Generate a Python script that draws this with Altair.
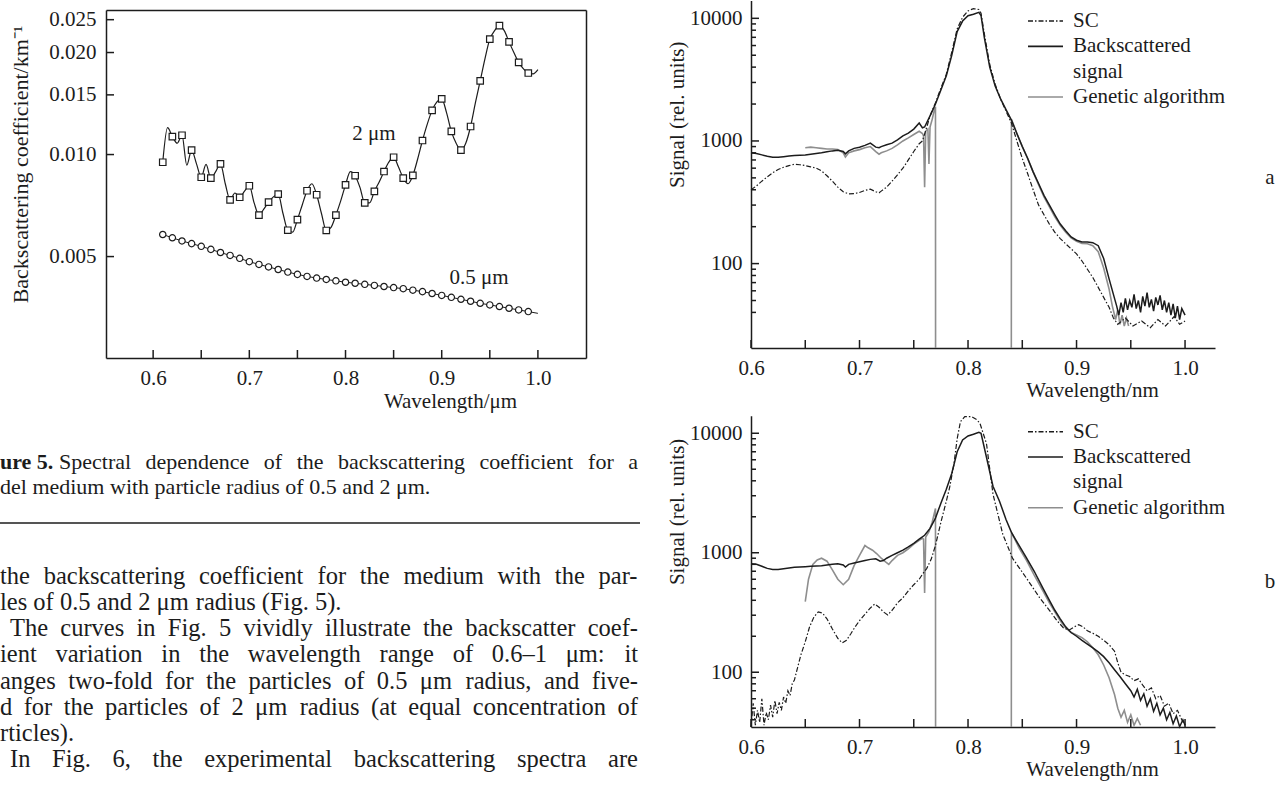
import altair as alt
import pandas as pd

W, H = 1287, 787
FONT = "Liberation Serif"
INK = "#1c1c1c"
GRAY = "#8e8e8e"

# ---------------- Figure 5 data ----------------
fig5_lam = [0.61, 0.615, 0.62, 0.625, 0.63, 0.635, 0.64, 0.645, 0.65, 0.655, 0.66, 0.665, 0.67, 0.675,
            0.68, 0.685, 0.69, 0.695, 0.70, 0.705, 0.71, 0.715, 0.72, 0.725, 0.73, 0.735, 0.74, 0.745,
            0.75, 0.755, 0.76, 0.765, 0.77, 0.775, 0.78, 0.785, 0.79, 0.795, 0.80, 0.805, 0.81, 0.815,
            0.82, 0.825, 0.83, 0.835, 0.84, 0.845, 0.85, 0.855, 0.86, 0.865, 0.87, 0.875, 0.88, 0.885,
            0.89, 0.895, 0.90, 0.905, 0.91, 0.915, 0.92, 0.925, 0.93, 0.935, 0.94, 0.945, 0.95, 0.955,
            0.96, 0.965, 0.97, 0.975, 0.98, 0.985, 0.99, 0.995, 1.0]
fig5_2um = [0.00949, 0.0120, 0.0113, 0.0108, 0.0114, 0.0093, 0.0103, 0.0094, 0.00857, 0.00935, 0.00852,
            0.0089, 0.00939, 0.0082, 0.00735, 0.0077, 0.00748, 0.0078, 0.00809, 0.0072, 0.00663, 0.0069,
            0.00724, 0.0075, 0.00764, 0.0067, 0.00598, 0.0059, 0.00643, 0.0071, 0.00782, 0.0082, 0.00761,
            0.0067, 0.00597, 0.0061, 0.00663, 0.0073, 0.00814, 0.0089, 0.00866, 0.0080, 0.0072, 0.0072,
            0.00779, 0.0083, 0.00891, 0.0095, 0.00982, 0.0092, 0.00852, 0.0082, 0.00868, 0.0097, 0.0110,
            0.0123, 0.0135, 0.0143, 0.0146, 0.0133, 0.0117, 0.0108, 0.0103, 0.0108, 0.0121, 0.0142, 0.0165,
            0.0192, 0.0219, 0.0232, 0.0240, 0.0232, 0.0215, 0.0200, 0.0187, 0.0179, 0.0174, 0.0173, 0.0178]
fig5_lam05 = [0.61, 0.62, 0.63, 0.64, 0.65, 0.66, 0.67, 0.68, 0.69, 0.70, 0.71, 0.72, 0.73, 0.74, 0.75,
              0.76, 0.77, 0.78, 0.79, 0.80, 0.81, 0.82, 0.83, 0.84, 0.85, 0.86, 0.87, 0.88, 0.89, 0.90,
              0.91, 0.92, 0.93, 0.94, 0.95, 0.96, 0.97, 0.98, 0.99, 1.0]
fig5_05um = [0.00581, 0.00568, 0.00556, 0.00546, 0.00536, 0.00525, 0.00514, 0.00504, 0.00494, 0.00483,
             0.00474, 0.00466, 0.00458, 0.00450, 0.00443, 0.00437, 0.00432, 0.00428, 0.00424, 0.00420,
             0.00417, 0.00414, 0.00411, 0.00408, 0.00405, 0.00402, 0.00398, 0.00394, 0.00389, 0.00384,
             0.00379, 0.00374, 0.00369, 0.00364, 0.00360, 0.00356, 0.00352, 0.00348, 0.00344, 0.00340]
fig5_xticks = [0.6, 0.7, 0.8, 0.9, 1.0]
fig5_xminor = [0.6, 0.65, 0.7, 0.75, 0.8, 0.85, 0.9, 0.95, 1.0]
fig5_yticks = [0.005, 0.010, 0.015, 0.020, 0.025]
fig5_labels = [(0.8296, 0.01153, "2 μm"), (0.9387, 0.00431, "0.5 μm")]

# ---------------- Figure 6 data (wavelength, signal) ----------------
a_backscatter = [(0.600, 800), (0.605, 790), (0.610, 770), (0.615, 750), (0.620, 735), (0.625, 735),
    (0.630, 745), (0.635, 755), (0.640, 760), (0.645, 765), (0.650, 770), (0.655, 780), (0.660, 790),
    (0.665, 800), (0.670, 815), (0.675, 830), (0.680, 840), (0.685, 820), (0.687, 785), (0.690, 830),
    (0.695, 870), (0.700, 890), (0.705, 920), (0.710, 960), (0.715, 890), (0.718, 880), (0.720, 900),
    (0.725, 930), (0.730, 960), (0.735, 1020), (0.740, 1100), (0.745, 1160), (0.750, 1250), (0.755, 1400),
    (0.758, 1280), (0.760, 1300), (0.765, 1600), (0.770, 2000), (0.775, 2600), (0.780, 3400), (0.785, 5000),
    (0.790, 7800), (0.795, 9500), (0.800, 10500), (0.805, 10800), (0.810, 11200), (0.812, 10500),
    (0.815, 7000), (0.820, 4000), (0.825, 2800), (0.830, 2200), (0.835, 1800), (0.840, 1480), (0.845, 1150),
    (0.850, 900), (0.855, 720), (0.860, 560), (0.865, 450), (0.870, 360), (0.875, 300), (0.880, 250),
    (0.885, 210), (0.890, 185), (0.895, 165), (0.900, 155), (0.905, 150), (0.910, 150), (0.915, 148),
    (0.920, 140), (0.925, 110), (0.930, 75), (0.935, 52), (0.937, 45), (0.939, 38), (0.941, 48), (0.943, 40),
    (0.945, 52), (0.947, 42), (0.949, 50), (0.951, 44), (0.953, 56), (0.955, 43), (0.957, 50), (0.959, 40),
    (0.961, 54), (0.963, 45), (0.965, 58), (0.967, 44), (0.969, 51), (0.971, 41), (0.973, 53), (0.975, 46),
    (0.977, 55), (0.979, 42), (0.981, 50), (0.983, 40), (0.985, 48), (0.987, 38), (0.989, 47), (0.991, 36),
    (0.993, 45), (0.995, 35), (0.997, 43), (1.000, 38)]
a_sc = [(0.600, 400), (0.605, 430), (0.610, 470), (0.615, 510), (0.620, 550), (0.625, 585), (0.630, 610),
    (0.635, 630), (0.640, 645), (0.645, 640), (0.650, 630), (0.655, 615), (0.660, 600), (0.665, 570),
    (0.670, 520), (0.675, 470), (0.680, 420), (0.685, 385), (0.690, 370), (0.695, 372), (0.700, 380),
    (0.705, 395), (0.710, 405), (0.715, 385), (0.718, 378), (0.720, 390), (0.725, 420), (0.730, 470),
    (0.735, 530), (0.740, 600), (0.745, 700), (0.750, 820), (0.755, 950), (0.758, 1000), (0.762, 1300),
    (0.765, 1600), (0.770, 2050), (0.775, 2700), (0.780, 3500), (0.785, 5300), (0.790, 8200), (0.795, 10200),
    (0.800, 11500), (0.805, 12000), (0.810, 11800), (0.812, 11000), (0.815, 7500), (0.820, 4200),
    (0.825, 2900), (0.830, 2200), (0.835, 1750), (0.840, 1400), (0.845, 1000), (0.850, 720), (0.855, 540),
    (0.860, 400), (0.865, 300), (0.870, 250), (0.875, 210), (0.880, 180), (0.885, 160), (0.890, 145),
    (0.895, 132), (0.900, 120), (0.905, 105), (0.910, 90), (0.915, 77), (0.920, 64), (0.925, 53),
    (0.930, 44), (0.934, 36), (0.938, 32), (0.945, 36), (0.952, 31), (0.960, 34), (0.968, 30), (0.975, 35),
    (0.982, 31), (0.990, 37), (0.995, 32), (1.000, 34)]
a_genetic_1 = [(0.650, 880), (0.655, 890), (0.660, 880), (0.665, 870), (0.670, 860), (0.675, 860),
    (0.680, 850), (0.685, 800), (0.687, 740), (0.690, 800), (0.695, 830), (0.700, 850), (0.705, 880),
    (0.710, 900), (0.715, 820), (0.718, 780), (0.720, 800), (0.725, 830), (0.730, 870), (0.735, 930),
    (0.740, 1000), (0.745, 1060), (0.750, 1130), (0.755, 1200), (0.758, 1150), (0.759, 1100), (0.760, 420),
    (0.761, 1200), (0.763, 1250), (0.764, 650), (0.765, 1300), (0.767, 1500), (0.769, 1800), (0.770, 1900)]
a_genetic_2 = [(0.840, 1500), (0.845, 1150), (0.850, 900), (0.855, 720), (0.860, 560), (0.865, 440),
    (0.870, 350), (0.875, 290), (0.880, 240), (0.885, 205), (0.890, 180), (0.895, 162), (0.900, 152),
    (0.905, 146), (0.910, 145), (0.915, 140), (0.920, 125), (0.925, 92), (0.930, 62), (0.933, 45),
    (0.936, 35), (0.938, 42), (0.940, 32), (0.942, 38), (0.944, 31), (0.946, 36), (0.948, 31)]

b_backscatter = [(0.600, 810), (0.605, 800), (0.610, 770), (0.615, 740), (0.620, 725), (0.625, 725),
    (0.630, 735), (0.635, 745), (0.640, 755), (0.645, 760), (0.650, 765), (0.655, 770), (0.660, 775),
    (0.665, 780), (0.670, 790), (0.675, 800), (0.680, 810), (0.685, 790), (0.687, 760), (0.690, 800),
    (0.695, 820), (0.700, 840), (0.705, 860), (0.710, 880), (0.715, 890), (0.719, 850), (0.722, 860),
    (0.725, 900), (0.730, 950), (0.735, 1000), (0.740, 1050), (0.745, 1120), (0.750, 1200), (0.755, 1300),
    (0.760, 1400), (0.765, 1600), (0.770, 1950), (0.775, 2600), (0.780, 3400), (0.785, 4600), (0.790, 7000),
    (0.795, 8800), (0.800, 9500), (0.805, 9800), (0.810, 10200), (0.812, 10000), (0.817, 6300),
    (0.823, 3600), (0.829, 2700), (0.835, 1900), (0.840, 1480), (0.847, 1150), (0.854, 900), (0.861, 700),
    (0.869, 505), (0.875, 400), (0.880, 330), (0.885, 280), (0.890, 240), (0.895, 215), (0.900, 200),
    (0.905, 185), (0.910, 172), (0.915, 160), (0.920, 148), (0.925, 135), (0.930, 120), (0.935, 105),
    (0.940, 92), (0.945, 80), (0.950, 70), (0.953, 62), (0.956, 72), (0.959, 58), (0.962, 66), (0.965, 52),
    (0.968, 60), (0.971, 47), (0.974, 55), (0.977, 44), (0.980, 50), (0.983, 40), (0.986, 46), (0.989, 37),
    (0.992, 43), (0.995, 35), (0.998, 40), (1.000, 36)]
b_sc = [(0.600, 35), (0.602, 55), (0.604, 36), (0.606, 48), (0.608, 38), (0.610, 60), (0.612, 36),
    (0.614, 46), (0.616, 40), (0.618, 53), (0.620, 42), (0.622, 58), (0.624, 45), (0.626, 56), (0.628, 48),
    (0.630, 62), (0.632, 55), (0.634, 70), (0.636, 64), (0.638, 80), (0.640, 86), (0.643, 110), (0.646, 140),
    (0.650, 180), (0.654, 240), (0.658, 290), (0.662, 320), (0.666, 312), (0.670, 280), (0.675, 230),
    (0.680, 192), (0.684, 176), (0.688, 185), (0.692, 210), (0.696, 240), (0.700, 270), (0.705, 305),
    (0.710, 345), (0.714, 372), (0.718, 350), (0.722, 320), (0.726, 302), (0.730, 330), (0.735, 380),
    (0.740, 420), (0.745, 480), (0.750, 540), (0.755, 600), (0.758, 660), (0.762, 740), (0.766, 880),
    (0.770, 1150), (0.775, 1800), (0.780, 2700), (0.783, 3500), (0.787, 5500), (0.790, 9000),
    (0.793, 12500), (0.797, 13800), (0.803, 13800), (0.808, 13000), (0.811, 12100), (0.817, 8200),
    (0.823, 3100), (0.832, 1430), (0.841, 900), (0.854, 610), (0.866, 420), (0.875, 330), (0.882, 270),
    (0.888, 235), (0.893, 225), (0.898, 240), (0.902, 250), (0.906, 240), (0.910, 222), (0.915, 212),
    (0.920, 200), (0.925, 185), (0.930, 170), (0.935, 150), (0.938, 120), (0.941, 100), (0.945, 95),
    (0.949, 92), (0.953, 85), (0.957, 88), (0.961, 78), (0.965, 70), (0.969, 74), (0.973, 60), (0.977, 64),
    (0.981, 52), (0.985, 55), (0.989, 45), (0.993, 48), (0.997, 40), (1.000, 36)]
b_genetic_1 = [(0.650, 390), (0.653, 600), (0.657, 800), (0.661, 870), (0.665, 900), (0.670, 850),
    (0.675, 720), (0.680, 600), (0.685, 540), (0.690, 600), (0.695, 780), (0.700, 950), (0.705, 1150),
    (0.708, 1100), (0.712, 1050), (0.716, 980), (0.720, 900), (0.724, 840), (0.727, 800), (0.730, 860),
    (0.735, 950), (0.740, 1000), (0.745, 1080), (0.750, 1180), (0.755, 1270), (0.758, 1320), (0.759, 1300),
    (0.760, 460), (0.761, 1350), (0.764, 1500), (0.767, 1800), (0.770, 2350)]
b_genetic_2 = [(0.840, 1480), (0.847, 1100), (0.854, 860), (0.861, 650), (0.869, 480), (0.875, 380),
    (0.880, 320), (0.885, 270), (0.890, 235), (0.895, 215), (0.900, 205), (0.905, 195), (0.910, 180),
    (0.915, 160), (0.920, 140), (0.925, 115), (0.930, 90), (0.935, 65), (0.938, 50), (0.941, 42),
    (0.944, 48), (0.947, 38), (0.950, 44), (0.953, 36), (0.956, 41), (0.959, 36)]

fig6_xticks = [0.6, 0.7, 0.8, 0.9, 1.0]
fig6_xminor = [0.6, 0.65, 0.7, 0.75, 0.8, 0.85, 0.9, 0.95, 1.0]
fig6_ymajor = [100, 1000, 10000]
fig6_yminor = [40, 50, 60, 70, 80, 90, 200, 300, 400, 500, 600, 700, 800, 900,
               2000, 3000, 4000, 5000, 6000, 7000, 8000, 9000]
legend_rows = ["SC", "Backscattered", "signal", "Genetic algorithm"]

# ---------------- text ----------------
caption_bold = "ure 5."
caption_1 = "Spectral dependence of the backscattering coefficient for a"
caption_2 = "del medium with particle radius of 0.5 and 2 μm."
body_lines = [
    "the backscattering coefficient for the medium with the par-",
    "les of 0.5 and 2 μm radius (Fig. 5).",
    "The curves in Fig. 5 vividly illustrate the backscatter coef-",
    "ient variation in the wavelength range of 0.6–1 μm: it",
    "anges two-fold for the particles of 0.5 μm radius, and five-",
    "d for the particles of 2 μm radius (at equal concentration of",
    "rticles).",
    "In Fig. 6, the experimental backscattering spectra are",
]
body_justified = [True, False, True, True, True, True, False, True]
body_indented = [False, False, True, False, False, False, False, True]

# Times / Liberation Serif advance widths (per em) used to justify lines
_TW = {" ": .25, "!": .333, "(": .333, ")": .333, ",": .25, "-": .333, ".": .25, "/": .278, ":": .278,
       ";": .278, "–": .5, "μ": .576}
_TW.update({d: .5 for d in "0123456789"})
_TW.update(dict(zip("ABCDEFGHIJKLMNOPQRSTUVWXYZ",
                    [.722, .667, .667, .722, .611, .556, .722, .722, .333, .389, .722, .611, .889, .722,
                     .722, .556, .722, .667, .556, .611, .722, .722, .944, .722, .722, .611])))
_TW.update(dict(zip("abcdefghijklmnopqrstuvwxyz",
                    [.444, .5, .444, .5, .444, .333, .5, .5, .278, .278, .5, .278, .778, .5, .5, .5, .5,
                     .333, .389, .278, .5, .5, .722, .5, .5, .444])))


def text_width(s, size):
    return sum(_TW.get(c, .5) for c in s) * size


def word_rows(line, size, x0, x1, justify):
    words = line.split(" ")
    widths = [text_width(w, size) for w in words]
    if justify and len(words) > 1:
        gap = (x1 - x0 - sum(widths)) / (len(words) - 1)
    else:
        gap = text_width(" ", size)
    rows, x = [], x0
    for w, wd in zip(words, widths):
        rows.append((w, x))
        x += wd + gap
    return rows


def ax(**kw):
    base = dict(grid=False, labelFont=FONT, labelFontSize=21, labelColor=INK, titleFont=FONT,
                titleFontSize=21, titleFontWeight="normal", titleColor=INK, domainColor=INK,
                tickColor=INK, domainWidth=1.5, tickWidth=1.5, labelFlush=False, labelOverlap=False)
    base.update(kw)
    return alt.Axis(**base)


PX = dict(domain=[0, W], range=[0, W])
PY = dict(domain=[0, H], range=[0, H])


def xticks_rule(values, xscale, y_axis, size):
    """Inward (upward) tick marks on a bottom axis line."""
    d = pd.DataFrame({"v": values})
    d["y0"] = y_axis
    d["y1"] = y_axis - size
    return alt.Chart(d).mark_rule(color=INK, strokeWidth=1.5).encode(
        x=alt.X("v:Q", scale=alt.Scale(**xscale), axis=None),
        y=alt.Y("y0:Q", scale=alt.Scale(**PY), axis=None), y2="y1:Q")


def yticks_rule(values, yscale, x_axis, size):
    """Inward (rightward) tick marks on a left axis line."""
    d = pd.DataFrame({"v": values})
    d["x0"] = x_axis
    d["x1"] = x_axis + size
    return alt.Chart(d).mark_rule(color=INK, strokeWidth=1.5).encode(
        y=alt.Y("v:Q", scale=alt.Scale(**yscale), axis=None),
        x=alt.X("x0:Q", scale=alt.Scale(**PX), axis=None), x2="x1:Q")


layers = []

# ================= Figure 5 =================
X5 = dict(domain=[0.551, 1.05], range=[106, 586], nice=False, zero=False)
Y5 = dict(type="log", domain=[0.00251, 0.0267], range=[358, 10], nice=False)
df2 = pd.DataFrame({"lam": fig5_lam, "b": fig5_2um})
df2m = df2[(((df2["lam"] * 1000).round() % 10) == 0) & (df2["lam"] < 0.995)]
df05 = pd.DataFrame({"lam": fig5_lam05, "b": fig5_05um})
df05m = df05[df05["lam"] < 0.995]
dflab5 = pd.DataFrame(fig5_labels, columns=["lam", "b", "t"])

layers.append(alt.Chart(df2).mark_line(color=INK, strokeWidth=1.2, interpolate="monotone").encode(
    x=alt.X("lam:Q", scale=alt.Scale(**X5), axis=ax(
        orient="bottom", offset=358 - H, values=fig5_xticks, format=".1f", ticks=False, tickSize=0,
        labelPadding=9, title="Wavelength/μm", titleX=450, titleY=43, titleAlign="center",
        titleBaseline="middle")),
    y=alt.Y("b:Q", scale=alt.Scale(**Y5), axis=ax(
        orient="left", offset=-106, values=fig5_yticks, format=".3f", ticks=False, tickSize=0,
        labelPadding=10, title="Backscattering coefficient/km⁻¹", titleFontSize=22, titleX=-86,
        titleY=164, titleAngle=270, titleAlign="center", titleBaseline="middle"))))

layers.append(alt.Chart(df05).mark_line(color=INK, strokeWidth=1.0).encode(
    x=alt.X("lam:Q", scale=alt.Scale(**X5), axis=ax(
        orient="top", offset=-10, labels=False, ticks=False, tickSize=0, title=None, values=[])),
    y=alt.Y("b:Q", scale=alt.Scale(**Y5), axis=ax(
        orient="right", offset=586 - W, labels=False, ticks=False, tickSize=0, title=None, values=[]))))

layers.append(alt.Chart(df2m).mark_point(shape="square", filled=True, fill="white", stroke=INK,
                                         strokeWidth=1.2, size=42, opacity=1).encode(
    x=alt.X("lam:Q", scale=alt.Scale(**X5), axis=None),
    y=alt.Y("b:Q", scale=alt.Scale(**Y5), axis=None)))

layers.append(alt.Chart(df05m).mark_point(shape="circle", filled=True, fill="white", stroke=INK,
                                          strokeWidth=1.2, size=40, opacity=1).encode(
    x=alt.X("lam:Q", scale=alt.Scale(**X5), axis=None),
    y=alt.Y("b:Q", scale=alt.Scale(**Y5), axis=None)))

layers.append(alt.Chart(dflab5).mark_text(font=FONT, fontSize=21, color=INK).encode(
    x=alt.X("lam:Q", scale=alt.Scale(**X5), axis=None),
    y=alt.Y("b:Q", scale=alt.Scale(**Y5), axis=None),
    text="t:N"))

layers.append(xticks_rule(fig5_xminor, X5, 358, 8))
layers.append(yticks_rule(fig5_yticks, Y5, 106, 8))


# ================= Figure 6 panels =================
def panel(bs, sc, ga1, ga2, y_axis, y_top, ymin, leg_top, letter, letter_y):
    XS = dict(domain=[0.6, 1.0276], range=[751, 1215], nice=False, zero=False)
    YS = dict(type="log", domain=[ymin, 14000], range=[y_axis, y_top], nice=False)
    out = []
    dbs = pd.DataFrame(bs, columns=["lam", "sig"])
    dsc = pd.DataFrame(sc, columns=["lam", "sig"])
    g1 = pd.DataFrame(ga1 + [(0.7701, ymin)], columns=["lam", "sig"])
    g1["seg"] = 1
    g2 = pd.DataFrame([(0.8399, ymin)] + ga2, columns=["lam", "sig"])
    g2["seg"] = 2
    dga = pd.concat([g1, g2])

    out.append(alt.Chart(dga).mark_line(color=GRAY, strokeWidth=1.6).encode(
        x=alt.X("lam:Q", scale=alt.Scale(**XS), axis=None),
        y=alt.Y("sig:Q", scale=alt.Scale(**YS), axis=None),
        detail="seg:N"))
    out.append(alt.Chart(dsc).mark_line(color=INK, strokeWidth=1.2, strokeDash=[5, 2, 1.5, 2]).encode(
        x=alt.X("lam:Q", scale=alt.Scale(**XS), axis=None),
        y=alt.Y("sig:Q", scale=alt.Scale(**YS), axis=None)))
    out.append(alt.Chart(dbs).mark_line(color=INK, strokeWidth=1.5).encode(
        x=alt.X("lam:Q", scale=alt.Scale(**XS), axis=ax(
            orient="bottom", offset=y_axis - H, values=fig6_xticks, format=".1f", ticks=False,
            tickSize=0, labelPadding=9, title="Wavelength/nm", titleX=1092, titleY=42,
            titleAlign="center", titleBaseline="middle")),
        y=alt.Y("sig:Q", scale=alt.Scale(**YS), axis=ax(
            orient="left", offset=-751, values=fig6_ymajor, format="d", ticks=False, tickSize=0,
            labelPadding=9, title="Signal (rel. units)", titleX=-74,
            titleY=(y_top + y_axis) / 2 - 60, titleAngle=270, titleAlign="center",
            titleBaseline="middle"))))
    out.append(xticks_rule(fig6_xminor, XS, y_axis, 8))
    out.append(yticks_rule(fig6_ymajor, YS, 751, 8))
    out.append(yticks_rule(fig6_yminor, YS, 751, 5))

    leg = pd.DataFrame({"row": [0, 1, 2, 3], "label": legend_rows})
    RS = dict(domain=[0, 3], range=[leg_top, leg_top + 76])
    styles = [(0, INK, [5, 2, 1.5, 2]), (1, INK, [1, 0]), (3, GRAY, [1, 0])]
    for row, col, dash in styles:
        out.append(alt.Chart(leg[leg["row"] == row]).mark_rule(color=col, strokeWidth=1.6,
                                                                strokeDash=dash).encode(
            x=alt.value(1028), x2=alt.value(1063),
            y=alt.Y("row:Q", scale=alt.Scale(**RS), axis=None)))
    out.append(alt.Chart(leg).mark_text(align="left", baseline="middle", font=FONT, fontSize=21,
                                        color=INK).encode(
        x=alt.value(1073), y=alt.Y("row:Q", scale=alt.Scale(**RS), axis=None), text="label:N"))
    out.append(alt.Chart(pd.DataFrame({"t": [letter]})).mark_text(
        font=FONT, fontSize=21, color=INK, baseline="middle").encode(
        x=alt.value(1270), y=alt.value(letter_y), text="t:N"))
    return out


layers += panel(a_backscatter, a_sc, a_genetic_1, a_genetic_2, 348, 0.4, 20.5, 21, "a", 178)
layers += panel(b_backscatter, b_sc, b_genetic_1, b_genetic_2, 727, 415.8, 34.8, 431.7, "b", 582)

# ================= text block =================
RIGHT = 638
CAP = 22
BODY = 24.5

layers.append(alt.Chart(pd.DataFrame({"t": [caption_bold]})).mark_text(
    align="left", baseline="middle", font=FONT, fontSize=CAP, fontWeight="bold", color=INK).encode(
    x=alt.value(0), y=alt.value(462), text="t:N"))
cap_rows = [(w, x, 0) for w, x in word_rows(caption_1, CAP, 59, RIGHT, True)]
cap_rows += [(w, x, 1) for w, x in word_rows(caption_2, CAP, 0, RIGHT, False)]
cap_df = pd.DataFrame(cap_rows, columns=["w", "px", "i"])
layers.append(alt.Chart(cap_df).mark_text(
    align="left", baseline="middle", font=FONT, fontSize=CAP, color=INK).encode(
    x=alt.X("px:Q", scale=alt.Scale(**PX), axis=None),
    y=alt.Y("i:Q", scale=alt.Scale(domain=[0, 1], range=[462, 487]), axis=None),
    text="w:N"))

layers.append(alt.Chart(pd.DataFrame({"k": [0]})).mark_rule(color=INK, strokeWidth=1.5).encode(
    x=alt.value(0), x2=alt.value(640), y=alt.value(523)))

body_rows = []
for i, (line, just, ind) in enumerate(zip(body_lines, body_justified, body_indented)):
    body_rows += [(w, x, i) for w, x in word_rows(line, BODY, 10 if ind else 0, RIGHT, just)]
body_df = pd.DataFrame(body_rows, columns=["w", "px", "i"])
layers.append(alt.Chart(body_df).mark_text(
    align="left", baseline="middle", font=FONT, fontSize=BODY, color=INK).encode(
    x=alt.X("px:Q", scale=alt.Scale(**PX), axis=None),
    y=alt.Y("i:Q", scale=alt.Scale(domain=[0, 7], range=[577, 760]), axis=None),
    text="w:N"))

chart = alt.layer(*layers).resolve_scale(x="independent", y="independent").properties(
    width=W, height=H, padding=0, autosize=alt.AutoSizeParams(type="none"), background="white"
).configure_view(strokeWidth=0)

chart.save("out.html", embed_options={"renderer": "svg", "actions": False})
